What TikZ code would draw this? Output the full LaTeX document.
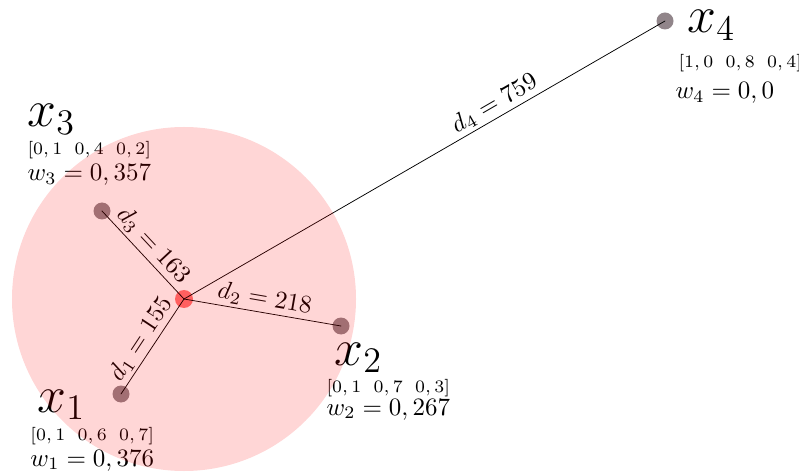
\documentclass[tikz,border=0pt]{standalone}
\definecolor{ptgray}{RGB}{145,133,138}
\definecolor{ctred}{RGB}{255,115,115}
\newcommand{\vgap}{\enspace\,}
\begin{document}
\begin{tikzpicture}[x=0.4pt, y=-0.4pt, line join=round, line cap=round,
	pnt/.style={fill=ptgray},
	lbl/.style={anchor=base west, inner sep=0pt},
	vec/.style={lbl, font=\scriptsize},
	dist/.style={sloped, above, inner sep=1.2pt}]
	\useasboundingbox (0,0) rectangle (799,472);
	% points
	\coordinate (c) at (184,299);
	\coordinate (x1) at (121,394);
	\coordinate (x2) at (341,326);
	\coordinate (x3) at (102,211);
	\coordinate (x4) at (665,21);
	\foreach \p in {x1,x2,x3,x4} \fill[pnt] (\p) circle (3.4pt);
	\fill[ctred] (c) circle (3.6pt);
	% distances
	\draw[line width=0.3pt] (x1) -- (c) node[dist, midway]{$d_1=155$};
	\draw[line width=0.3pt] (c) -- (x2) node[dist, midway]{$d_2=218$};
	\draw[line width=0.3pt] (x3) -- (c) node[dist, midway]{$d_3=163$};
	\draw[line width=0.3pt] (c) -- (x4) node[dist, pos=0.66]{$d_4=759$};
	% labels
	\node[lbl, font=\huge] (lx1) at (37,412) {$x_1$};
	\node[vec] (v1) at (30,440) {$[0,1\vgap 0,6\vgap 0,7]$};
	\node[lbl] (w1) at (30,466) {$w_1=0,376$};
	\node[lbl, font=\huge] (lx2) at (334,365) {$x_2$};
	\node[vec] (v2) at (326,392) {$[0,1\vgap 0,7\vgap 0,3]$};
	\node[lbl] (w2) at (326,415) {$w_2=0,267$};
	\node[lbl, font=\huge] (lx3) at (27,127) {$x_3$};
	\node[vec] (v3) at (27,155) {$[0,1\vgap 0,4\vgap 0,2]$};
	\node[lbl] (w3) at (27,181) {$w_3=0,357$};
	\node[lbl, font=\huge] (lx4) at (687,33) {$x_4$};
	\node[vec] (v4) at (678,68) {$[1,0\vgap 0,8\vgap 0,4]$};
	\node[lbl] (w4) at (675,99) {$w_4=0,0$};
	% neighbourhood
	\fill[red, opacity=0.16] (c) circle (68.8pt);
\end{tikzpicture}
\end{document}
